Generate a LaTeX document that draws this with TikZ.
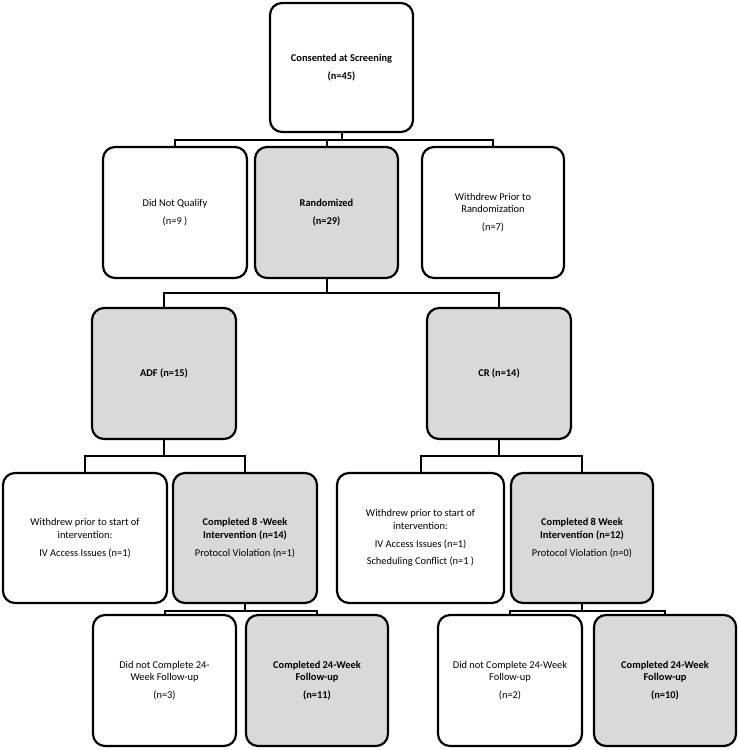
\documentclass[tikz,border=0pt]{standalone}
\usepackage{fontspec}
\setmainfont{Carlito}
\usepackage{tikz}
\usetikzlibrary{positioning, calc}
\definecolor{BoxGrey}{RGB}{217,217,217}

\begin{document}
\begin{tikzpicture}[x=1pt,y=-1pt,
    plainbox/.style={draw=black,fill=white,line width=2.2pt,rounded corners=12pt,
                     align=center,inner sep=3pt,
                     font=\fontsize{10.4}{12.8}\selectfont},
    greybox/.style={plainbox,fill=BoxGrey},
    link/.style={black,line width=2pt}
  ]
    \useasboundingbox (0,0) rectangle (737,750);
    % screening level
    \node[plainbox,minimum width=143pt,minimum height=129pt] (consented) at (341.5,67.5)
      {\textbf{Consented at Screening}\\[5pt]\textbf{(n=45)}};
    \node[plainbox,minimum width=144pt,minimum height=131pt] (notqual) at (175,212.5)
      {Did Not Qualify\\[5pt](n=9 )};
    \node[greybox,minimum width=143pt,minimum height=131pt] (random) at (326.5,212.5)
      {\textbf{Randomized}\\[5pt]\textbf{(n=29)}};
    \node[plainbox,minimum width=142pt,minimum height=131pt] (priorwd) at (493,212.5)
      {Withdrew Prior to\\Randomization\\[5pt](n=7)};
    % arms
    \node[greybox,minimum width=144pt,minimum height=131pt] (adf) at (164,373.5)
      {\textbf{ADF (n=15)}};
    \node[greybox,minimum width=144pt,minimum height=131pt] (cr) at (499,373.5)
      {\textbf{CR (n=14)}};
    % intervention
    \node[plainbox,minimum width=164pt,minimum height=130pt] (adfwd) at (85,538)
      {Withdrew prior to start of\\intervention:\\[5pt]IV Access Issues (n=1)};
    \node[greybox,minimum width=144pt,minimum height=130pt] (adfdone) at (245,538)
      {\textbf{Completed 8 -Week}\\\textbf{Intervention (n=14)}\\[5pt]Protocol Violation (n=1)};
    \node[plainbox,minimum width=167pt,minimum height=130pt] (crwd) at (420.5,538)
      {Withdrew prior to start of\\intervention:\\[5pt]IV Access Issues (n=1)\\[5pt]Scheduling Conflict (n=1 )};
    \node[greybox,minimum width=142pt,minimum height=130pt] (crdone) at (582,538)
      {\textbf{Completed 8 Week}\\\textbf{Intervention (n=12)}\\[5pt]Protocol Violation (n=0)};
    % follow-up
    \node[plainbox,minimum width=143pt,minimum height=131pt] (adflost) at (164.5,680.5)
      {Did not Complete 24-\\Week Follow-up\\[5pt](n=3)};
    \node[greybox,minimum width=142pt,minimum height=131pt] (adffu) at (317,680.5)
      {\textbf{Completed 24-Week}\\\textbf{Follow-up}\\[5pt]\textbf{(n=11)}};
    \node[plainbox,minimum width=144pt,minimum height=131pt] (crlost) at (510,680.5)
      {Did not Complete 24-Week\\Follow-up\\[5pt](n=2)};
    \node[greybox,minimum width=142pt,minimum height=131pt] (crfu) at (665,680.5)
      {\textbf{Completed 24-Week}\\\textbf{Follow-up}\\[5pt]\textbf{(n=10)}};
    % bus lines
    \coordinate (bus1) at (0,140);
    \coordinate (bus2) at (0,293);
    \coordinate (bus3) at (0,456);
    \coordinate (bus4) at (0,611);
    \foreach \kid in {notqual,random,priorwd}
      \draw[link] (consented.south) -- (consented.south |- bus1) -| (\kid.north);
    \foreach \kid in {adf,cr}
      \draw[link] (random.south) -- (random.south |- bus2) -| (\kid.north);
    \foreach \kid in {adfwd,adfdone}
      \draw[link] (adf.south) -- (adf.south |- bus3) -| (\kid.north);
    \foreach \kid in {crwd,crdone}
      \draw[link] (cr.south) -- (cr.south |- bus3) -| (\kid.north);
    \foreach \kid in {adflost,adffu}
      \draw[link] (adfdone.south) -- (adfdone.south |- bus4) -| (\kid.north);
    \foreach \kid in {crlost,crfu}
      \draw[link] (crdone.south) -- (crdone.south |- bus4) -| (\kid.north);
\end{tikzpicture}
\end{document}
